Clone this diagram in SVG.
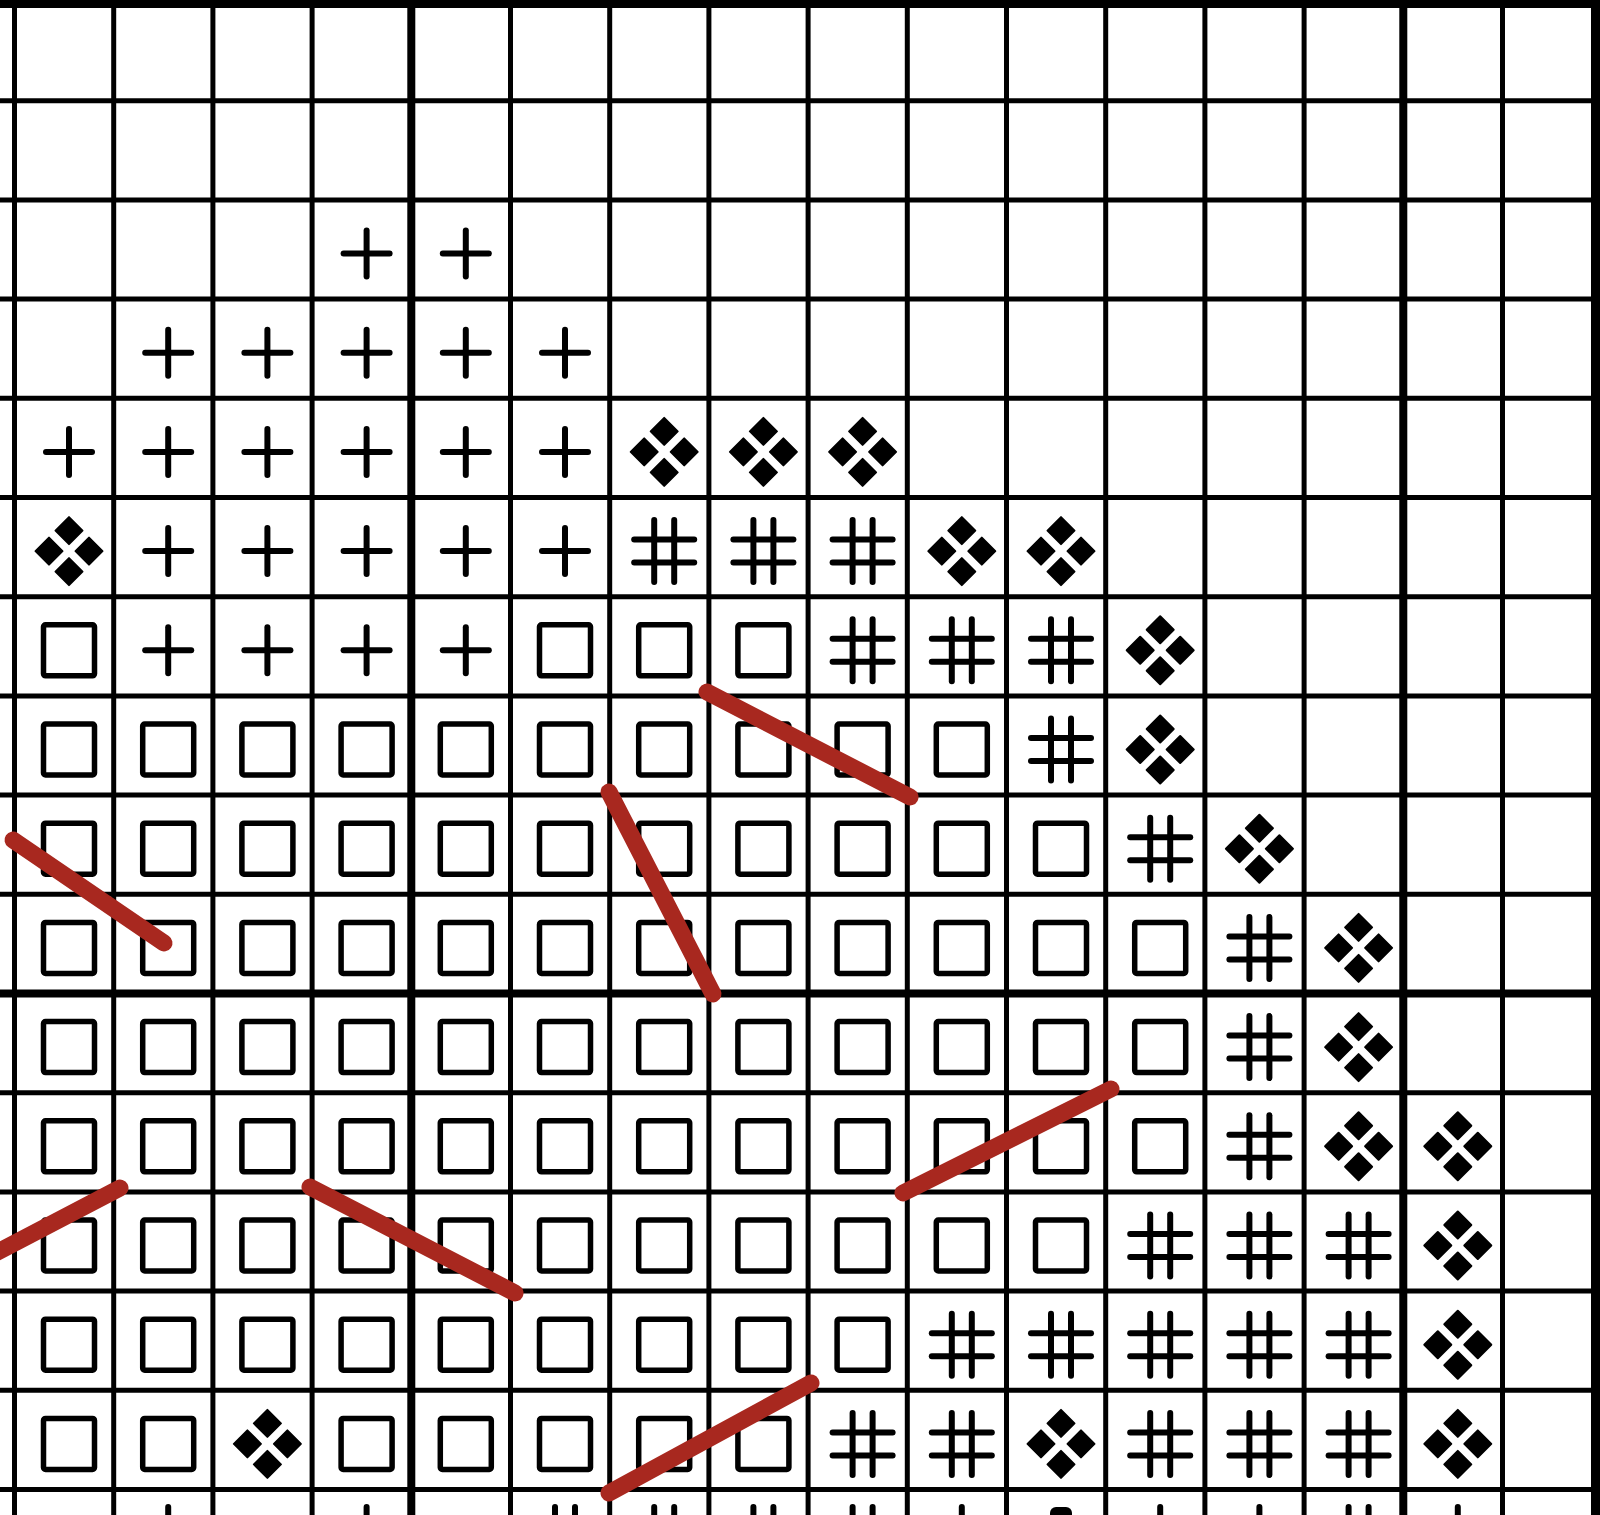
<svg xmlns="http://www.w3.org/2000/svg" width="1600" height="1515" viewBox="0 0 1600 1515">
<style>
.thin{stroke:#000;stroke-width:5;fill:none}
.thick{stroke:#000;stroke-width:8;fill:none}
.sym{stroke:#000;stroke-width:6;fill:none;stroke-linecap:round}
.stitch{stroke:#a8281f;stroke-width:17;stroke-linecap:round;fill:none}
</style>
<defs>
<g id="plus" class="sym"><line x1="-23" y1="0" x2="23" y2="0"/><line x1="0" y1="-23" x2="0" y2="23"/></g>
<g id="box"><rect x="-25.5" y="-25.5" width="51" height="51" rx="2" stroke="#000" stroke-width="5.5" fill="none"/></g>
<g id="hash" class="sym"><line x1="-30" y1="-11.5" x2="30" y2="-11.5"/><line x1="-30" y1="11.5" x2="30" y2="11.5"/><line x1="-10" y1="-31" x2="-10" y2="31"/><line x1="10" y1="-31" x2="10" y2="31"/></g>
<g id="dia" fill="#000" stroke="#000" stroke-width="2" stroke-linejoin="round">
<path d="M0,-34 L13.5,-20.5 L0,-7 L-13.5,-20.5 Z"/>
<path d="M0,7 L13.5,20.5 L0,34 L-13.5,20.5 Z"/>
<path d="M-20,-13.5 L-6.5,0 L-20,13.5 L-33.5,0 Z"/>
<path d="M20,-13.5 L33.5,0 L20,13.5 L6.5,0 Z"/>
</g>
<g id="tick" class="sym"><line x1="0" y1="-36" x2="0" y2="10"/></g>
<g id="blk"><rect x="-11" y="-36" width="22" height="30" rx="6" fill="#000"/></g>
</defs>
<rect x="0" y="0" width="1600" height="1515" fill="#fff"/>
<g id="grid">
<g class="thin">
<line x1="14.5" y1="0" x2="14.5" y2="1515"/>
<line x1="113.7" y1="0" x2="113.7" y2="1515"/>
<line x1="212.9" y1="0" x2="212.9" y2="1515"/>
<line x1="312.1" y1="0" x2="312.1" y2="1515"/>
<line x1="510.5" y1="0" x2="510.5" y2="1515"/>
<line x1="609.7" y1="0" x2="609.7" y2="1515"/>
<line x1="708.9" y1="0" x2="708.9" y2="1515"/>
<line x1="808.1" y1="0" x2="808.1" y2="1515"/>
<line x1="907.3" y1="0" x2="907.3" y2="1515"/>
<line x1="1006.5" y1="0" x2="1006.5" y2="1515"/>
<line x1="1105.7" y1="0" x2="1105.7" y2="1515"/>
<line x1="1204.9" y1="0" x2="1204.9" y2="1515"/>
<line x1="1304.1" y1="0" x2="1304.1" y2="1515"/>
<line x1="1502.5" y1="0" x2="1502.5" y2="1515"/>
<line x1="0" y1="100.7" x2="1600" y2="100.7"/>
<line x1="0" y1="199.9" x2="1600" y2="199.9"/>
<line x1="0" y1="299.1" x2="1600" y2="299.1"/>
<line x1="0" y1="398.3" x2="1600" y2="398.3"/>
<line x1="0" y1="497.5" x2="1600" y2="497.5"/>
<line x1="0" y1="596.7" x2="1600" y2="596.7"/>
<line x1="0" y1="695.9" x2="1600" y2="695.9"/>
<line x1="0" y1="795.1" x2="1600" y2="795.1"/>
<line x1="0" y1="894.3" x2="1600" y2="894.3"/>
<line x1="0" y1="1092.7" x2="1600" y2="1092.7"/>
<line x1="0" y1="1191.9" x2="1600" y2="1191.9"/>
<line x1="0" y1="1291.1" x2="1600" y2="1291.1"/>
<line x1="0" y1="1390.3" x2="1600" y2="1390.3"/>
<line x1="0" y1="1489.5" x2="1600" y2="1489.5"/>
</g>
<g class="thick">
<line x1="411.3" y1="0" x2="411.3" y2="1515"/>
<line x1="1403.3" y1="0" x2="1403.3" y2="1515"/>
<line x1="0" y1="993.5" x2="1600" y2="993.5"/>
</g>
<rect x="0" y="0" width="1600" height="8" fill="#000"/>
<rect x="1591" y="0" width="9" height="1515" fill="#000"/>
</g>
<g id="symbols">
<!-- row 2 -->
<use href="#plus" x="366.6" y="253.5"/><use href="#plus" x="465.8" y="253.5"/>
<!-- row 3 -->
<use href="#plus" x="168.2" y="352.7"/><use href="#plus" x="267.4" y="352.7"/><use href="#plus" x="366.6" y="352.7"/><use href="#plus" x="465.8" y="352.7"/><use href="#plus" x="565" y="352.7"/>
<!-- row 4 -->
<use href="#plus" x="69" y="451.9"/><use href="#plus" x="168.2" y="451.9"/><use href="#plus" x="267.4" y="451.9"/><use href="#plus" x="366.6" y="451.9"/><use href="#plus" x="465.8" y="451.9"/><use href="#plus" x="565" y="451.9"/>
<use href="#dia" x="664.2" y="451.9"/><use href="#dia" x="763.4" y="451.9"/><use href="#dia" x="862.6" y="451.9"/>
<!-- row 5 -->
<use href="#dia" x="69" y="551.1"/>
<use href="#plus" x="168.2" y="551.1"/><use href="#plus" x="267.4" y="551.1"/><use href="#plus" x="366.6" y="551.1"/><use href="#plus" x="465.8" y="551.1"/><use href="#plus" x="565" y="551.1"/>
<use href="#hash" x="664.2" y="551.1"/><use href="#hash" x="763.4" y="551.1"/><use href="#hash" x="862.6" y="551.1"/>
<use href="#dia" x="961.8" y="551.1"/><use href="#dia" x="1061" y="551.1"/>
<!-- row 6 -->
<use href="#box" x="69" y="650.3"/>
<use href="#plus" x="168.2" y="650.3"/><use href="#plus" x="267.4" y="650.3"/><use href="#plus" x="366.6" y="650.3"/><use href="#plus" x="465.8" y="650.3"/>
<use href="#box" x="565" y="650.3"/><use href="#box" x="664.2" y="650.3"/><use href="#box" x="763.4" y="650.3"/>
<use href="#hash" x="862.6" y="650.3"/><use href="#hash" x="961.8" y="650.3"/><use href="#hash" x="1061" y="650.3"/>
<use href="#dia" x="1160.2" y="650.3"/>
<!-- row 7 -->
<use href="#box" x="69" y="749.5"/><use href="#box" x="168.2" y="749.5"/><use href="#box" x="267.4" y="749.5"/><use href="#box" x="366.6" y="749.5"/><use href="#box" x="465.8" y="749.5"/><use href="#box" x="565" y="749.5"/><use href="#box" x="664.2" y="749.5"/><use href="#box" x="763.4" y="749.5"/><use href="#box" x="862.6" y="749.5"/><use href="#box" x="961.8" y="749.5"/>
<use href="#hash" x="1061" y="749.5"/><use href="#dia" x="1160.2" y="749.5"/>
<!-- row 8 -->
<use href="#box" x="69" y="848.7"/><use href="#box" x="168.2" y="848.7"/><use href="#box" x="267.4" y="848.7"/><use href="#box" x="366.6" y="848.7"/><use href="#box" x="465.8" y="848.7"/><use href="#box" x="565" y="848.7"/><use href="#box" x="664.2" y="848.7"/><use href="#box" x="763.4" y="848.7"/><use href="#box" x="862.6" y="848.7"/><use href="#box" x="961.8" y="848.7"/><use href="#box" x="1061" y="848.7"/>
<use href="#hash" x="1160.2" y="848.7"/><use href="#dia" x="1259.4" y="848.7"/>
<!-- row 9 -->
<use href="#box" x="69" y="947.9"/><use href="#box" x="168.2" y="947.9"/><use href="#box" x="267.4" y="947.9"/><use href="#box" x="366.6" y="947.9"/><use href="#box" x="465.8" y="947.9"/><use href="#box" x="565" y="947.9"/><use href="#box" x="664.2" y="947.9"/><use href="#box" x="763.4" y="947.9"/><use href="#box" x="862.6" y="947.9"/><use href="#box" x="961.8" y="947.9"/><use href="#box" x="1061" y="947.9"/><use href="#box" x="1160.2" y="947.9"/>
<use href="#hash" x="1259.4" y="947.9"/><use href="#dia" x="1358.6" y="947.9"/>
<!-- row 10 -->
<use href="#box" x="69" y="1047.1"/><use href="#box" x="168.2" y="1047.1"/><use href="#box" x="267.4" y="1047.1"/><use href="#box" x="366.6" y="1047.1"/><use href="#box" x="465.8" y="1047.1"/><use href="#box" x="565" y="1047.1"/><use href="#box" x="664.2" y="1047.1"/><use href="#box" x="763.4" y="1047.1"/><use href="#box" x="862.6" y="1047.1"/><use href="#box" x="961.8" y="1047.1"/><use href="#box" x="1061" y="1047.1"/><use href="#box" x="1160.2" y="1047.1"/>
<use href="#hash" x="1259.4" y="1047.1"/><use href="#dia" x="1358.6" y="1047.1"/>
<!-- row 11 -->
<use href="#box" x="69" y="1146.3"/><use href="#box" x="168.2" y="1146.3"/><use href="#box" x="267.4" y="1146.3"/><use href="#box" x="366.6" y="1146.3"/><use href="#box" x="465.8" y="1146.3"/><use href="#box" x="565" y="1146.3"/><use href="#box" x="664.2" y="1146.3"/><use href="#box" x="763.4" y="1146.3"/><use href="#box" x="862.6" y="1146.3"/><use href="#box" x="961.8" y="1146.3"/><use href="#box" x="1061" y="1146.3"/><use href="#box" x="1160.2" y="1146.3"/>
<use href="#hash" x="1259.4" y="1146.3"/><use href="#dia" x="1358.6" y="1146.3"/><use href="#dia" x="1457.8" y="1146.3"/>
<!-- row 12 -->
<use href="#box" x="69" y="1245.5"/><use href="#box" x="168.2" y="1245.5"/><use href="#box" x="267.4" y="1245.5"/><use href="#box" x="366.6" y="1245.5"/><use href="#box" x="465.8" y="1245.5"/><use href="#box" x="565" y="1245.5"/><use href="#box" x="664.2" y="1245.5"/><use href="#box" x="763.4" y="1245.5"/><use href="#box" x="862.6" y="1245.5"/><use href="#box" x="961.8" y="1245.5"/><use href="#box" x="1061" y="1245.5"/>
<use href="#hash" x="1160.2" y="1245.5"/><use href="#hash" x="1259.4" y="1245.5"/><use href="#hash" x="1358.6" y="1245.5"/><use href="#dia" x="1457.8" y="1245.5"/>
<!-- row 13 -->
<use href="#box" x="69" y="1344.7"/><use href="#box" x="168.2" y="1344.7"/><use href="#box" x="267.4" y="1344.7"/><use href="#box" x="366.6" y="1344.7"/><use href="#box" x="465.8" y="1344.7"/><use href="#box" x="565" y="1344.7"/><use href="#box" x="664.2" y="1344.7"/><use href="#box" x="763.4" y="1344.7"/><use href="#box" x="862.6" y="1344.7"/>
<use href="#hash" x="961.8" y="1344.7"/><use href="#hash" x="1061" y="1344.7"/><use href="#hash" x="1160.2" y="1344.7"/><use href="#hash" x="1259.4" y="1344.7"/><use href="#hash" x="1358.6" y="1344.7"/><use href="#dia" x="1457.8" y="1344.7"/>
<!-- row 14 -->
<use href="#box" x="69" y="1443.9"/><use href="#box" x="168.2" y="1443.9"/><use href="#dia" x="267.4" y="1443.9"/><use href="#box" x="366.6" y="1443.9"/><use href="#box" x="465.8" y="1443.9"/><use href="#box" x="565" y="1443.9"/><use href="#box" x="664.2" y="1443.9"/><use href="#box" x="763.4" y="1443.9"/>
<use href="#hash" x="862.6" y="1443.9"/><use href="#hash" x="961.8" y="1443.9"/><use href="#dia" x="1061" y="1443.9"/><use href="#hash" x="1160.2" y="1443.9"/><use href="#hash" x="1259.4" y="1443.9"/><use href="#hash" x="1358.6" y="1443.9"/><use href="#dia" x="1457.8" y="1443.9"/>
<!-- row 15 (partial) -->
<use href="#tick" x="168.2" y="1543.1"/><use href="#tick" x="366.6" y="1543.1"/>
<use href="#hash" x="565" y="1538"/><use href="#hash" x="664.2" y="1538"/><use href="#hash" x="763.4" y="1538"/><use href="#hash" x="862.6" y="1538"/>
<use href="#tick" x="961.8" y="1543.1"/><use href="#blk" x="1061" y="1543.1"/><use href="#tick" x="1160.2" y="1543.1"/><use href="#tick" x="1259.4" y="1543.1"/>
<use href="#hash" x="1358.6" y="1538"/><use href="#tick" x="1457.8" y="1543.1"/>
</g>
<g id="stitches" class="stitch">
<line x1="707" y1="692" x2="910" y2="797"/>
<line x1="609" y1="792" x2="713" y2="994"/>
<line x1="13" y1="840" x2="164" y2="943"/>
<line x1="-12" y1="1257" x2="120" y2="1188"/>
<line x1="310" y1="1187" x2="515" y2="1293"/>
<line x1="903" y1="1193" x2="1111" y2="1089"/>
<line x1="609" y1="1493" x2="811" y2="1383"/>
</g>
</svg>
